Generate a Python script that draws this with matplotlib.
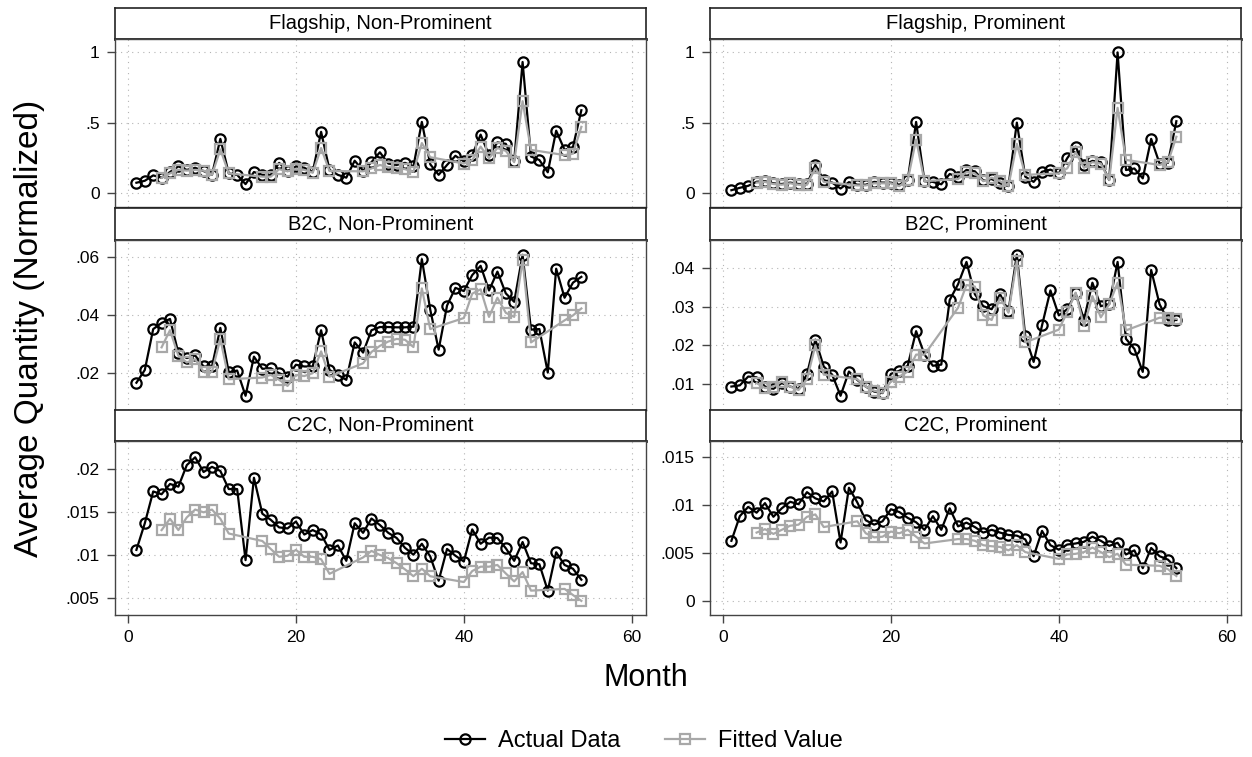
import matplotlib
matplotlib.use('Agg')
import matplotlib.pyplot as plt
from matplotlib.ticker import FuncFormatter, FixedLocator
from matplotlib.lines import Line2D

plt.rcParams['font.family'] = ['Liberation Sans', 'DejaVu Sans']

N = None
months = list(range(1, 55))

titles = ["Flagship, Non-Prominent", "Flagship, Prominent",
          "B2C, Non-Prominent", "B2C, Prominent",
          "C2C, Non-Prominent", "C2C, Prominent"]

flag_np_actual = [.074, .088, .126, .11, .15, .19, .165, .18, .157, .13, .385, .14, .13, .064, .15, .13, .13, .215,
                  .157, .19, .18, .15, .435, .165, .13, .11, .23, .16, .22, .29, .21, .2, .215, .19, .505, .205,
                  .13, .2, .265, .225, .27, .415, .27, .36, .35, .23, .93, .26, .235, .148, .443, .307, .327, .588]
flag_np_fitted = [N, N, N, .11, .14, .165, .16, .165, .16, .13, .31, .14, N, N, N, .117, .117, .17, .155, .17, .165,
                  .145, .32, .157, N, N, N, .155, .175, .2, .185, .18, .17, .152, .355, .255, N, N, N, .21, .235,
                  .33, .248, .32, .3, .22, .652, .307, N, N, N, .27, .28, .47]

flag_p_actual = [.021, .038, .052, .081, .085, .07, .065, .075, .065, .065, .2, .093, .075, .033, .078, .06, .06, .08,
                 .075, .075, .06, .093, .505, .085, .08, .063, .136, .115, .165, .155, .09, .1, .07, .05, .5, .117,
                 .08, .152, .167, .14, .248, .33, .2, .229, .22, .093, .998, .164, .175, .105, .385, .21, .215, .51]
flag_p_fitted = [N, N, N, .075, .08, .065, .06, .07, .06, .06, .176, .08, N, N, N, .055, .055, .07, .07, .07, .05,
                 .093, .38, .085, N, N, N, .1, .15, .14, .085, .11, .085, .052, .35, .13, N, N, N, .14, .176, .29,
                 .18, .22, .21, .093, .605, .236, N, N, N, .2, .22, .4]

b2c_np_actual = [.0165, .0209, .035, .0371, .0385, .0267, .025, .0259, .0221, .0221, .0354, .0201, .0207, .012,
                 .0255, .0213, .0215, .0198, .0186, .0227, .0221, .0221, .0346, .0209, .0192, .0175, .0304, .0269,
                 .0346, .0357, .0357, .0356, .0356, .0358, .0591, .0417, .0279, .0431, .0492, .0481, .0536, .0568,
                 .0483, .0548, .0473, .0444, .0606, .0348, .035, .020, .0558, .0458, .051, .053]
b2c_np_fitted = [N, N, N, .0287, .0346, .0258, .0235, .0246, .0203, .0203, .0316, .0177, N, N, N, .0183, .0192,
                 .0175, .0154, .0192, .0188, .0198, .0273, .0186, N, N, N, .0232, .0271, .0292, .0307, .0316, .0313,
                 .0288, .049, .035, N, N, N, .0388, .0472, .0487, .0392, .0458, .0406, .0392, .0588, .0304, N, N, N,
                 .038, .0397, .0421]

b2c_p_actual = [.0093, .0096, .0119, .0117, .0093, .0087, .0102, .0093, .0087, .0125, .0215, .0145, .0124, .0069,
                .0132, .011, .0093, .008, .0076, .0126, .0134, .0147, .0237, .0176, .0147, .015, .0318, .0359, .0417,
                .0333, .0302, .0294, .0333, .0289, .0436, .0224, .0157, .0252, .0343, .0278, .0294, .0335, .0267,
                .0363, .0302, .0307, .0417, .0217, .0191, .0131, .0396, .0307, .0265, .0266]
b2c_p_fitted = [N, N, N, .0102, .0089, .0093, .0106, .0093, .0084, .0112, .020, .0124, N, N, N, .0112, .0093, .0082,
                .0077, .0106, .0119, .0132, .0176, .0176, N, N, N, .0298, .0357, .0353, .0278, .0266, .0324, .0285,
                .042, .0208, N, N, N, .0241, .0287, .0337, .025, .0328, .0273, .0307, .0363, .0239, N, N, N, .0272,
                .0272, .0269]

c2c_np_actual = [.01056, .01365, .01734, .01702, .01821, .0179, .0204, .02131, .0196, .0202, .01972, .01762, .01762,
                 .00937, .01893, .01476, .01405, .01317, .01305, .01385, .01234, .01286, .01238, .01056, .01107,
                 .00929, .01365, .01254, .0142, .01345, .01254, .01194, .01079, .0100, .01127, .0098, .00698, .01067,
                 .00988, .00921, .01294, .01127, .01198, .01194, .01075, .00929, .01147, .00901, .00889, .00583,
                 .01028, .00881, .00837, .0071]
c2c_np_fitted = [N, N, N, .01286, .01417, .01286, .01433, .01524, .01492, .01524, .01417, .01246, N, N, N, .01159,
                 .01067, .00976, .00988, .01056, .00976, .00976, .00948, .00778, N, N, N, .00968, .01044, .00998,
                 .0096, .00901, .00829, .0075, .00837, .0075, N, N, N, .00683, .0081, .00861, .00861, .00881, .00782,
                 .0069, .00798, .00583, N, N, N, .00603, .00532, .00464]

c2c_p_actual = [.00626, .00884, .00981, .0092, .0102, .00877, .00966, .01034, .01009, .01135, .0107, .01038, .01142,
                .00608, .01181, .01027, .00841, .00795, .0083, .00956, .00927, .00866, .0082, .00741, .00884, .00741,
                .00966, .00777, .00816, .0077, .00712, .00741, .00712, .00687, .0068, .00641, .00465, .0073, .0058,
                .00533, .00587, .00598, .00616, .00669, .00626, .00573, .00605, .00483, .00526, .0034, .00551,
                .00465, .00429, .0034]
c2c_p_fitted = [N, N, N, .00712, .00748, .00698, .00741, .00784, .00795, .00877, .00902, .0077, N, N, N, .0083,
                .00705, .00662, .00669, .00723, .00705, .00741, .00669, .00598, N, N, N, .00644, .00644, .00626,
                .0058, .00569, .00562, .00526, .0058, .00508, N, N, N, .00437, .00483, .0049, .00508, .00555, .00508,
                .00455, .0049, .00376, N, N, N, .00365, .00329, .00258]

actuals = [flag_np_actual, flag_p_actual, b2c_np_actual, b2c_p_actual, c2c_np_actual, c2c_p_actual]
fitteds = [flag_np_fitted, flag_p_fitted, b2c_np_fitted, b2c_p_fitted, c2c_np_fitted, c2c_p_fitted]

yticks = [[0, .5, 1], [0, .5, 1],
          [.02, .04, .06], [.01, .02, .03, .04],
          [.005, .01, .015, .02], [0, .005, .01, .015]]
ylims = [(-0.098, 1.093), (-0.098, 1.093),
         (0.0071, 0.0657), (0.0032, 0.0474),
         (0.003, 0.0232), (-0.0015, 0.0167)]
xticks = [0, 20, 40, 60]

W, H = 1252, 757
fig = plt.figure(figsize=(W / 100, H / 100), dpi=100)


def fax(x0, y0, x1, y1):
    return fig.add_axes([x0 / W, 1 - y1 / H, (x1 - x0) / W, (y1 - y0) / H])


def stata_fmt(v, pos):
    s = f'{v:g}'
    if s.startswith('0.'):
        s = s[1:]
    return s


cols = [(115, 646), (710, 1241)]
rows = [((8, 39), (39, 207)), ((208, 240), (240, 410)), ((410, 441), (441, 615))]

GRAY = '#a8a8a8'
LW, MS_O, MS_S, MEW = 1.6, 7.4, 6.6, 1.6
for i in range(6):
    r, c = divmod(i, 2)
    (hy0, hy1), (py0, py1) = rows[r]
    x0, x1 = cols[c]
    # header strip
    hax = fax(x0, hy0, x1, hy1)
    hax.set_xticks([])
    hax.set_yticks([])
    hax.set_facecolor('white')
    for s in hax.spines.values():
        s.set_color('#222222')
        s.set_linewidth(1.2)
    hax.spines['bottom'].set_linewidth(2.0)
    hax.text(0.5, 0.5, titles[i], ha='center', va='center', fontsize=14.5, transform=hax.transAxes)

    ax = fax(x0, py0, x1, py1)
    ax.set_xlim(-1.55, 61.7)
    ax.set_ylim(*ylims[i])
    ax.xaxis.set_major_locator(FixedLocator(xticks))
    ax.yaxis.set_major_locator(FixedLocator(yticks[i]))
    ax.yaxis.set_major_formatter(FuncFormatter(stata_fmt))
    ax.grid(True, color='#b4b4b4', linewidth=0.8, linestyle=(0, (1, 4)))
    ax.set_axisbelow(True)
    for s in ax.spines.values():
        s.set_color('#444444')
        s.set_linewidth(1.0)
    ax.tick_params(axis='y', direction='out', length=6, width=1, color='#444444', labelsize=12.5, pad=5)
    if r == 2:
        ax.tick_params(axis='x', direction='out', length=6, width=1, color='#444444', labelsize=12.5, pad=5)
    else:
        ax.tick_params(axis='x', length=0, labelbottom=False)

    ax.plot(months, actuals[i], color='black', lw=LW, marker='o', ms=MS_O, mfc='none', mew=MEW,
            zorder=3, label='Actual Data')
    fm = [m for m, v in zip(months, fitteds[i]) if v is not None]
    fv = [v for v in fitteds[i] if v is not None]
    ax.plot(fm, fv, color=GRAY, lw=LW, marker='s', ms=MS_S, mfc='none', mew=MEW,
            zorder=4, label='Fitted Value')

fig.text(30 / W, 1 - 328 / H, 'Average Quantity (Normalized)', rotation=90, ha='center', va='center',
         fontsize=24)
fig.text(646 / W, 1 - 678 / H, 'Month', ha='center', va='center', fontsize=22)

leg_handles = [Line2D([], [], color='black', lw=LW, marker='o', ms=MS_O, mfc='none', mew=MEW),
               Line2D([], [], color=GRAY, lw=LW, marker='s', ms=MS_S, mfc='none', mew=MEW)]
fig.legend(leg_handles, ['Actual Data', 'Fitted Value'], loc='center', bbox_to_anchor=(644 / W, 1 - 741 / H),
           ncol=2, frameon=False, fontsize=17, handlelength=1.7, columnspacing=1.9, handletextpad=0.55)

fig.savefig('out.png', dpi=100, facecolor='white')
